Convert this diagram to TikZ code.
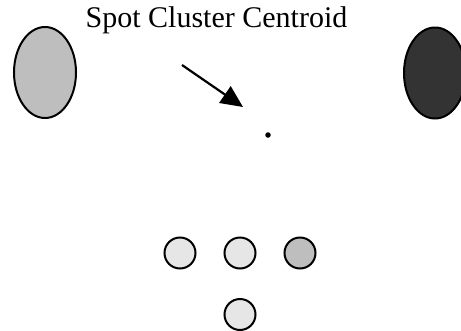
\documentclass[tikz,border=0pt]{standalone}
\usepackage{fontspec}
\setmainfont{Liberation Serif}
\usetikzlibrary{arrows.meta}
\definecolor{lightspot}{HTML}{E6E6E6}
\definecolor{midspot}{HTML}{BEBEBE}
\definecolor{darkspot}{HTML}{333333}
\tikzset{
  spot/.style={draw=black, line width=2pt, circle, minimum size=31pt, inner sep=0pt},
  blob/.style={draw=black, line width=2pt, ellipse, minimum width=62pt, minimum height=91pt, inner sep=0pt},
  label/.style={font=\fontsize{30}{35}\selectfont, inner sep=0pt, anchor=base}
}
\usetikzlibrary{shapes.geometric}
\begin{document}
\begin{tikzpicture}[x=1pt,y=-1pt]
\useasboundingbox (0,0) rectangle (461,330);
\fill[white] (0,0) rectangle (461,330);
\node[blob, fill=midspot] (left) at (45,72.5) {};
\node[blob, fill=darkspot] (right) at (435,73) {};
\node[label] (title) at (216.5,27.5) {Spot Cluster Centroid};
\node[circle, fill=black, minimum size=5.5pt, inner sep=0pt] (centroid) at (268,135) {};
\coordinate (tail) at (182,65);
\coordinate (tip) at (243,107);
\draw[line width=2.2pt, -{Triangle[length=22pt,width=20pt]}] (tail) -- (tip);
\node[spot, fill=lightspot] (s1) at (180,253) {};
\node[spot, fill=lightspot] (s2) at (240,253) {};
\node[spot, fill=midspot] (s3) at (300,253) {};
\node[spot, fill=lightspot] (s4) at (240,314.5) {};
\end{tikzpicture}
\end{document}
